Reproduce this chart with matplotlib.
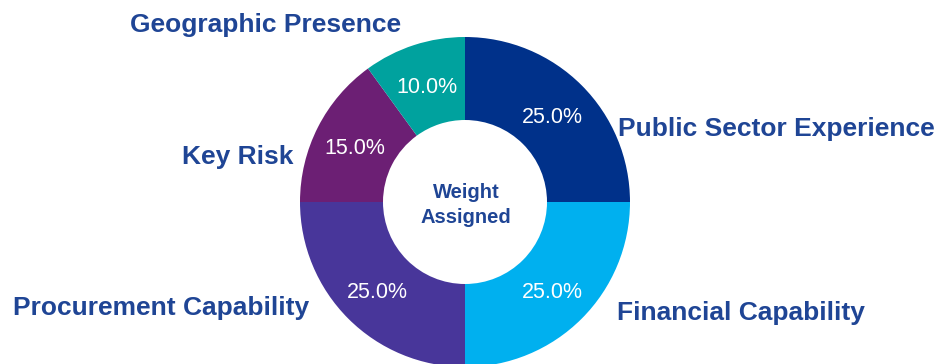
import matplotlib.pyplot as plt

plt.rcParams['font.family'] = ['Liberation Sans', 'DejaVu Sans']

# criteria weights, clockwise from 12 o'clock
criteria = ['Public Sector Experience', 'Financial Capability',
            'Procurement Capability', 'Key Risk', 'Geographic Presence']
weights = [25.0, 25.0, 25.0, 15.0, 10.0]
colors = ['#00318A', '#00B0EF', '#48369A', '#6C1F74', '#00A29E']

# where each criterion name sits (pixels, y measured from the bottom)
label_pos = [(618, 235), (617, 51), (309, 56), (293, 207), (266, 339)]
label_ha = ['left', 'left', 'right', 'right', 'center']

text_color = '#1F4595'

fig = plt.figure(figsize=(9.4, 3.64), dpi=100)
ax = fig.add_axes([0, 0, 1, 1])

wedges, _, pcts = ax.pie(
    weights, startangle=90, counterclock=False, colors=colors,
    center=(465, 162), radius=165,
    autopct='%1.1f%%', pctdistance=0.75,
    wedgeprops=dict(width=83, linewidth=0),
    textprops=dict(color='white', fontsize=15.5),
)
# nudge the percentages a little lower in the ring
for t in pcts:
    t.set_y(t.get_position()[1] - 3)

ax.text(466, 159, 'Weight\nAssigned', ha='center', va='center',
        fontsize=14.5, fontweight='bold', color=text_color, linespacing=1.4)

for name, (x, y), ha in zip(criteria, label_pos, label_ha):
    ax.text(x, y, name, ha=ha, va='center', fontsize=19,
            fontweight='bold', color=text_color)

ax.set_xlim(0, 940)
ax.set_ylim(0, 364)
ax.set_aspect('equal')
ax.axis('off')

fig.savefig('out.png', dpi=100)
